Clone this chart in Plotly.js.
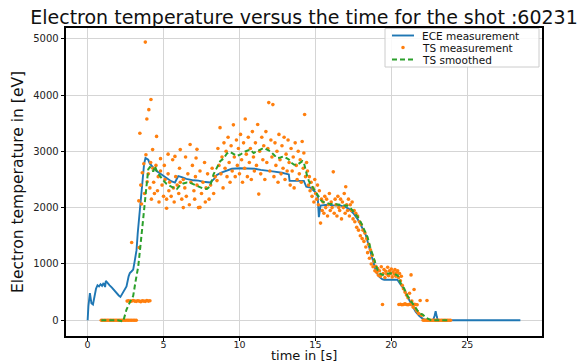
<!DOCTYPE html>
<html><head><meta charset="utf-8">
<script src="https://cdn.plot.ly/plotly-3.0.1.min.js"></script>
<style>html,body{margin:0;padding:0;background:#fff}#chart{width:577px;height:362px}</style>
</head><body><div id="chart"></div>
<script>
// ECE measurement (blue line)
const eceTime = [0,0.05,0.15,0.25,0.35,0.45,0.55,0.65,0.75,0.85,0.95,1.05,1.15,1.2,1.3,1.45,1.6,1.75,1.9,2.05,2.16,2.3,2.45,2.56,2.7,2.78,2.9,3.0,3.1,3.22,3.3,3.38,3.44,3.52,3.62,3.72,3.81,3.9,3.99,4.1,4.21,4.35,4.54,4.8,5.0,5.3,5.5,5.75,5.97,6.2,6.5,6.97,7.3,7.6,8.07,8.3,8.51,8.8,9.17,9.5,10.05,10.5,11.0,11.4,11.8,12.3,12.8,13.14,13.25,13.3,13.8,14.24,14.4,14.68,14.9,15.01,15.15,15.23,15.34,15.79,16.2,16.67,17.0,17.22,17.5,17.77,18.05,18.32,18.55,18.76,19.0,19.2,19.4,19.53,20.0,20.4,20.6,20.85,21.1,21.4,21.6,21.85,22.1,22.4,22.75,22.85,22.92,23.0,23.06,23.5,28.5];
const eceTemp = [0,250,480,300,280,430,560,620,600,640,610,660,590,700,660,620,580,530,480,440,415,480,550,600,780,840,870,900,1050,1245,1550,1800,2005,2300,2590,2780,2880,2870,2850,2780,2735,2700,2650,2600,2560,2500,2470,2445,2560,2540,2510,2485,2480,2460,2445,2500,2580,2620,2660,2690,2700,2700,2690,2670,2660,2640,2620,2600,2590,2475,2470,2475,2370,2355,2300,2270,2200,1830,2035,2050,2040,2035,2010,1975,1900,1800,1660,1510,1290,1070,860,775,730,720,720,720,640,545,400,250,150,75,20,0,0,80,160,60,0,0,0];

// TS smoothed (green dashed)
const smoothTime = [0.9,1.5,2.0,2.34,2.56,2.8,3.0,3.15,3.33,3.45,3.55,3.66,3.77,3.88,3.99,4.1,4.21,4.32,4.43,4.6,4.76,5.0,5.2,5.42,5.6,5.87,6.1,6.3,6.53,6.75,6.96,7.2,7.41,7.6,7.85,8.07,8.29,8.5,8.73,8.95,9.17,9.39,9.6,9.8,10.05,10.3,10.5,10.71,10.93,11.2,11.4,11.6,11.82,12.04,12.26,12.48,12.7,12.9,13.1,13.25,13.4,13.58,13.8,14.0,14.15,14.24,14.35,14.46,14.57,14.68,14.9,15.05,15.23,15.4,15.56,15.9,16.22,16.7,17.11,17.35,17.55,17.8,17.99,18.2,18.43,18.6,18.76,18.93,19.09,19.25,19.42,19.7,19.97,20.2,20.42,20.63,20.85,21.08,21.3,21.52,21.74,21.9,22.07,22.3,22.62,23.0,23.4,23.8];
const smoothTemp = [0,0,0,-20,190,330,430,680,950,1250,1540,1860,2180,2450,2680,2720,2705,2640,2735,2620,2560,2480,2420,2385,2360,2330,2400,2430,2445,2440,2415,2380,2355,2340,2330,2380,2590,2700,2825,2870,2960,2990,2960,2920,2940,2990,3010,3030,2970,3010,3040,3060,3030,3000,2940,2880,2890,2910,2880,2855,2800,2765,2760,2800,2825,2800,2650,2560,2475,2415,2330,2270,2180,2120,2095,2070,2065,2050,2035,1980,1920,1830,1740,1620,1480,1310,1160,1020,895,830,805,825,835,820,800,650,560,425,330,250,165,120,100,40,0,0,0,0];

// TS measurement (orange dots)
const tsTime = [
 0.9,1.0,1.1,1.2,1.3,1.4,1.5,1.6,1.7,1.8,1.9,2.0,2.1,2.2,2.3,2.4,2.5,2.6,2.7,2.8,2.9,3.0,3.1,3.2,
 2.6,2.7,2.8,2.9,3.0,3.1,3.2,3.3,3.4,3.5,3.6,3.7,3.8,3.9,4.0,4.1,
 2.9,3.4,3.37,3.5,3.55,3.6,3.44,3.7,3.75,3.8,3.84,3.9,3.92,4.03,4.17,4.28,4.54,
 4.0,4.1,4.15,4.2,4.3,4.35,4.4,4.5,4.6,4.65,4.7,4.8,4.9,5.0,5.05,5.1,5.2,5.3,5.35,5.4,5.5,5.6,5.65,5.7,5.8,5.9,6.0,6.05,6.1,6.2,6.3,6.4,6.45,6.5,6.6,6.7,6.8,6.9,7.0,7.05,7.1,7.2,7.3,7.4,7.5,7.6,7.7,7.75,7.8,7.9,8.0,8.1,8.2,8.3,8.4,
 5.75,6.1,6.75,7.14,7.2,5.3,4.8,7.4,6.3,5.2,
 8.52,8.58,8.65,8.72,8.78,8.85,8.92,8.98,9.05,9.12,9.18,9.25,9.32,9.38,9.45,9.52,9.6,9.66,9.72,9.8,9.86,9.93,10.0,10.07,10.14,10.2,10.27,10.34,10.38,10.45,10.52,10.58,10.65,10.72,10.78,10.85,10.92,10.98,11.05,11.12,11.2,11.27,11.33,11.4,11.47,11.54,11.6,11.67,11.74,11.8,11.87,11.93,12.0,12.07,12.14,12.2,12.27,12.34,12.4,12.47,12.54,12.6,12.67,12.74,12.8,12.87,12.94,13.0,13.07,13.14,13.2,13.27,13.34,13.4,13.47,13.54,13.6,13.67,13.74,13.8,13.87,13.94,14.0,14.07,14.13,14.2,14.24,14.29,14.35,14.42,
 14.48,14.55,14.6,14.65,14.72,14.78,14.84,14.9,14.96,15.02,15.08,15.14,15.2,15.26,15.34,15.4,15.45,
 15.5,15.56,15.62,15.68,15.74,15.8,15.86,15.92,15.98,16.04,16.1,16.18,16.24,16.3,16.36,16.42,16.48,16.54,16.6,16.66,16.72,16.78,16.84,16.9,16.96,17.0,17.06,17.12,17.18,17.24,17.3,17.36,17.42,17.48,
 17.55,17.6,17.66,17.72,17.78,17.84,17.9,17.96,18.02,18.08,18.14,18.2,18.26,18.32,18.38,18.44,18.5,18.56,18.62,18.68,18.74,18.8,18.86,18.92,18.98,19.04,
 19.1,19.16,19.22,19.28,19.34,19.42,19.46,19.52,19.58,19.64,19.7,19.76,19.82,19.88,19.94,20.0,20.06,20.12,20.18,20.24,20.3,20.36,20.42,20.48,20.54,20.6,20.66,20.72,
 20.5,20.6,20.7,20.8,20.9,21.0,21.1,21.2,21.3,21.4,21.5,21.6,21.7,
 20.8,20.9,21.0,21.1,21.2,21.3,21.35,21.5,21.45,21.6,21.7,21.8,21.9,22.35,22.0,
 22.1,22.2,22.3,22.4,22.5,22.6,22.7,22.8,22.9,23.0,23.1,23.2,23.3,23.4,23.5,23.6,23.7,23.8,23.9
];
const tsTemp = [
 0,0,0,0,0,0,0,0,0,0,0,0,0,0,0,0,0,0,0,0,0,0,0,0,
 340,345,335,340,350,340,335,345,340,330,345,340,335,350,340,345,
 1380,1290,2120,2400,2065,2620,3320,2780,2250,4940,2940,3575,2460,3740,3920,3030,3265,
 2600,2350,2800,2150,2700,2450,2250,2750,2300,2550,2100,2650,2400,2200,2750,2500,2150,2600,2300,2450,2200,2850,2350,2100,2550,2400,2250,2700,2450,2150,2500,2350,2900,2200,2600,2050,2450,2750,2300,2150,2550,2400,2000,2650,2250,2450,2800,2100,2350,2600,2150,2400,2700,2250,2550,
 2910,3030,3120,2880,3035,2950,2870,2005,2000,1990,
 2480,3050,2750,3420,2600,2900,2350,3150,2700,3000,2550,3250,2800,2450,3100,2650,3470,2900,2550,3200,2750,3050,2600,3300,2850,2450,3150,2700,3575,2950,2550,3250,2800,3050,2500,3350,2900,2650,3150,2750,3475,2240,3000,2600,3250,2850,3100,2500,3350,2800,3050,3865,2650,3200,2900,3830,2550,3150,2750,3000,2450,3300,2850,2600,3100,2700,3250,2500,2950,2650,3200,2800,2400,3050,2650,2900,2350,3150,2750,2500,3000,2600,2850,2450,3175,2700,2970,3655,2550,2800,
 2650,2400,2550,2300,2450,2200,2350,2100,2500,2250,2150,2400,2050,2300,1725,2150,1950,
 2100,1900,2200,2000,2150,1850,2050,2250,1950,2100,2000,2635,1900,2150,2050,1850,2200,2000,1950,2150,1800,2100,2000,2250,1900,2370,2050,1950,2150,1850,2050,1950,2100,1800,
 1950,1750,1900,1650,1850,1600,1750,1500,1700,1450,1600,1400,1550,1300,1450,1200,1350,1100,1250,1000,1150,950,1050,880,960,850,
 920,800,880,780,950,280,830,900,760,870,820,940,790,880,830,910,770,860,820,900,780,850,880,760,830,700,780,620,
 280,285,275,280,290,280,275,285,280,275,285,280,275,
 560,500,450,400,480,805,340,545,230,200,160,120,350,350,90,
 0,0,0,0,0,0,0,0,0,0,0,0,0,0,0,0,0,0,0
];

const xTicks = [0,5,10,15,20,25];
const yTicks = [0,1000,2000,3000,4000,5000];
const seriesNames = ['ECE measurement', 'TS measurement', 'TS smoothed'];
const seriesColors = ['#1f77b4', '#ff7f0e', '#2ca02c'];
const xTitle = 'time in [s]';

const traces = [
  {x: eceTime, y: eceTemp, type: 'scatter', mode: 'lines', name: seriesNames[0],
   line: {color: seriesColors[0], width: 1.9}},
  {x: tsTime, y: tsTemp, type: 'scatter', mode: 'markers', name: seriesNames[1],
   marker: {color: seriesColors[1], size: 3.6}},
  {x: smoothTime, y: smoothTemp, type: 'scatter', mode: 'lines', name: seriesNames[2],
   line: {color: seriesColors[2], width: 2, dash: '5px,3px'}}
];

// compact legend box (matplotlib style), built from the series names/colours
const W = 577, H = 362, ML = 66, MR = 35, MT = 28, MB = 26;
const pw = W - ML - MR, ph = H - MT - MB;
const px = v => (v - ML) / pw;
const py = v => (H - MB - v) / ph;
const rowsY = [35.5, 47.5, 59.5];
const shapes = [
  {type: 'rect', xref: 'paper', yref: 'paper', x0: px(385), x1: px(539), y0: py(67), y1: py(28.5),
   line: {color: '#cccccc', width: 1}, fillcolor: 'rgba(255,255,255,0.85)', layer: 'above'},
  {type: 'line', xref: 'paper', yref: 'paper', x0: px(392), x1: px(414), y0: py(rowsY[0]), y1: py(rowsY[0]),
   line: {color: seriesColors[0], width: 1.9}, layer: 'above'},
  {type: 'circle', xref: 'paper', yref: 'paper', x0: px(401.2), x1: px(404.8), y0: py(rowsY[1] + 1.8), y1: py(rowsY[1] - 1.8),
   line: {width: 0}, fillcolor: seriesColors[1], layer: 'above'},
  {type: 'line', xref: 'paper', yref: 'paper', x0: px(392), x1: px(414), y0: py(rowsY[2]), y1: py(rowsY[2]),
   line: {color: seriesColors[2], width: 2, dash: '5px,3px'}, layer: 'above'}
];
const annotations = seriesNames.map((n, i) => ({
  text: n, xref: 'paper', yref: 'paper', x: px(421), y: py(rowsY[i]),
  xanchor: 'left', yanchor: 'middle', showarrow: false, borderpad: 0,
  font: {size: 10.5, family: 'DejaVu Sans', color: '#111'}
}));
// x-axis title placed like the reference (just below the tick labels)
annotations.push({
  text: xTitle, xref: 'paper', yref: 'paper', x: 0.5, y: py(355.5),
  xanchor: 'center', yanchor: 'middle', showarrow: false, borderpad: 0,
  font: {size: 13, family: 'DejaVu Sans', color: '#111'}
});

const layout = {
  width: W, height: H,
  margin: {l: ML, r: MR, t: MT, b: MB},
  paper_bgcolor: '#fff', plot_bgcolor: '#fff',
  font: {family: 'DejaVu Sans', color: '#111'},
  showlegend: false,
  title: {text: 'Electron temperature versus the time for the shot :60231',
          font: {size: 19, family: 'DejaVu Sans', color: '#111'},
          x: 304 / W, xref: 'container', xanchor: 'center',
          y: 1 - 17 / H, yref: 'container', yanchor: 'middle'},
  xaxis: {range: [-1.425, 29.925], tickvals: xTicks, ticktext: xTicks.map(String),
          showgrid: true, gridcolor: '#d5d5d5', gridwidth: 1, zeroline: false,
          showline: true, linecolor: '#000', linewidth: 1.8, mirror: true,
          ticks: 'outside', ticklen: 3, tickcolor: '#000', tickwidth: 1,
          ticklabelstandoff: -4,
          tickfont: {size: 9.5, family: 'DejaVu Sans', color: '#222'}},
  yaxis: {range: [-280, 5190], tickvals: yTicks, ticktext: yTicks.map(String),
          showgrid: true, gridcolor: '#d5d5d5', gridwidth: 1, zeroline: false,
          showline: true, linecolor: '#000', linewidth: 1.8, mirror: true,
          ticks: 'outside', ticklen: 3.5, tickcolor: '#000', tickwidth: 1,
          tickfont: {size: 10, family: 'DejaVu Sans', color: '#222'},
          title: {text: 'Electron temperature in [eV]', font: {size: 15.5, family: 'DejaVu Sans', color: '#111'}, standoff: 6}},
  shapes: shapes,
  annotations: annotations
};

Plotly.newPlot('chart', traces, layout, {displayModeBar: false, staticPlot: true});
</script></body></html>
